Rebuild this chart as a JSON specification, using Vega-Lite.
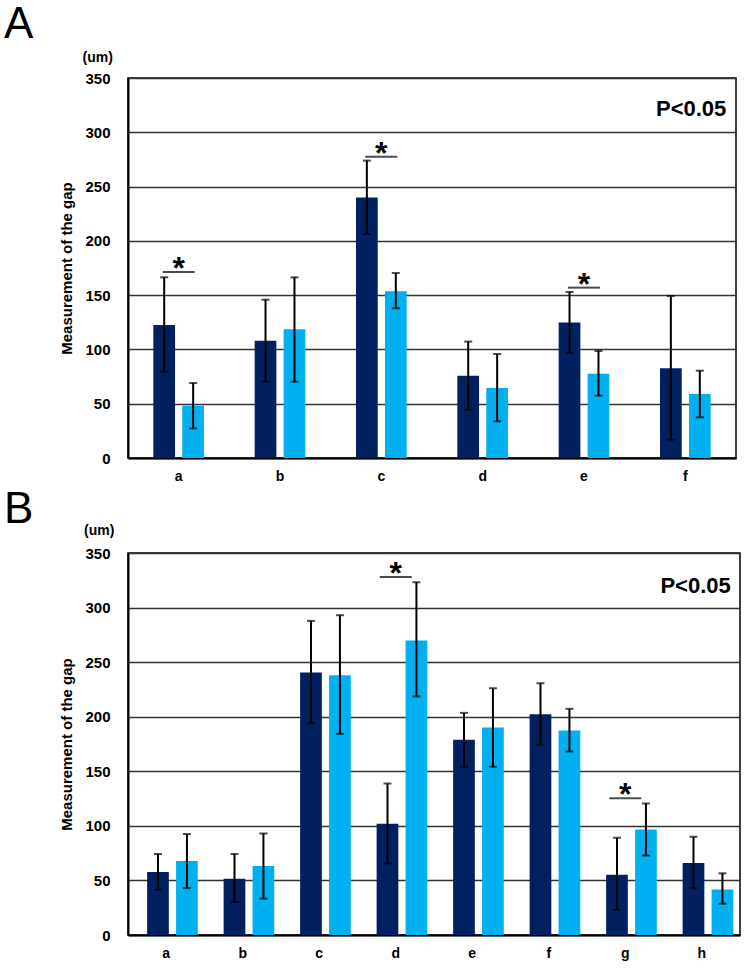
{
  "$schema": "https://vega.github.io/schema/vega-lite/v6.json",
  "padding": {"left": 3, "top": 2, "right": 2, "bottom": 0},
  "spacing": 3,
  "config": {
    "font": "Liberation Sans",
    "view": {"stroke": "black", "strokeWidth": 1.5},
    "axis": {
      "labelFont": "Liberation Sans", "labelFontWeight": "bold", "labelColor": "black",
      "titleFont": "Liberation Sans", "titleFontWeight": "bold", "titleColor": "black",
      "ticks": false, "domainColor": "black", "domainWidth": 2,
      "gridColor": "#333333", "gridWidth": 1.3
    },
    "title": {"font": "Liberation Sans", "fontWeight": "normal", "fontSize": 44, "anchor": "start", "frame": "group", "baseline": "alphabetic", "dx": -124, "color": "black"}
  },
  "datasets": {
    "A": [
      {"cat": "a", "group": "Series 1", "mean": 122.5, "lo": 79.5, "hi": 166.4},
      {"cat": "a", "group": "Series 2", "mean": 48.2, "lo": 27.3, "hi": 69.1},
      {"cat": "b", "group": "Series 1", "mean": 108, "lo": 70.3, "hi": 145.8},
      {"cat": "b", "group": "Series 2", "mean": 118.5, "lo": 70.3, "hi": 166.4},
      {"cat": "c", "group": "Series 1", "mean": 240, "lo": 206.3, "hi": 273.9},
      {"cat": "c", "group": "Series 2", "mean": 153.5, "lo": 137.9, "hi": 170.4},
      {"cat": "d", "group": "Series 1", "mean": 75.8, "lo": 44.2, "hi": 107.2},
      {"cat": "d", "group": "Series 2", "mean": 64.5, "lo": 33.8, "hi": 95.8},
      {"cat": "e", "group": "Series 1", "mean": 124.7, "lo": 97, "hi": 152.9},
      {"cat": "e", "group": "Series 2", "mean": 77.7, "lo": 57.4, "hi": 98.6},
      {"cat": "f", "group": "Series 1", "mean": 82.6, "lo": 16.9, "hi": 149.2},
      {"cat": "f", "group": "Series 2", "mean": 59, "lo": 37.5, "hi": 80.4}
    ],
    "B": [
      {"cat": "a", "group": "Series 1", "mean": 57.7, "lo": 41.5, "hi": 74.2},
      {"cat": "a", "group": "Series 2", "mean": 67.7, "lo": 43, "hi": 92.5},
      {"cat": "b", "group": "Series 1", "mean": 51.6, "lo": 30.2, "hi": 74.2},
      {"cat": "b", "group": "Series 2", "mean": 63.2, "lo": 33.3, "hi": 93},
      {"cat": "c", "group": "Series 1", "mean": 240.5, "lo": 194, "hi": 287.8},
      {"cat": "c", "group": "Series 2", "mean": 238, "lo": 184.3, "hi": 293},
      {"cat": "d", "group": "Series 1", "mean": 101.9, "lo": 65.6, "hi": 138.8},
      {"cat": "d", "group": "Series 2", "mean": 269.8, "lo": 218.5, "hi": 323.2},
      {"cat": "e", "group": "Series 1", "mean": 178.8, "lo": 154.1, "hi": 203.5},
      {"cat": "e", "group": "Series 2", "mean": 190.1, "lo": 154.1, "hi": 226.1},
      {"cat": "f", "group": "Series 1", "mean": 202.3, "lo": 174.3, "hi": 230.7},
      {"cat": "f", "group": "Series 2", "mean": 187.4, "lo": 168.2, "hi": 207.2},
      {"cat": "g", "group": "Series 1", "mean": 55.2, "lo": 22.9, "hi": 89.1},
      {"cat": "g", "group": "Series 2", "mean": 96.7, "lo": 72.9, "hi": 120.5},
      {"cat": "h", "group": "Series 1", "mean": 65.9, "lo": 43, "hi": 90},
      {"cat": "h", "group": "Series 2", "mean": 41.8, "lo": 28.7, "hi": 56.5}
    ],
    "Asig": [
      {"cat": "a", "y": 171.3, "label": "*"},
      {"cat": "c", "y": 277.5, "label": "*"},
      {"cat": "e", "y": 156.9, "label": "*"}
    ],
    "Bsig": [
      {"cat": "d", "y": 328, "label": "*"},
      {"cat": "g", "y": 125.3, "label": "*"}
    ]
  },
  "vconcat": [
    {
      "title": {"text": "A", "offset": 4},
      "width": 608,
      "height": 380,
      "layer": [
        {
          "data": {"name": "A"},
          "mark": {"type": "bar"},
          "encoding": {
            "x": {"field": "cat", "type": "nominal", "scale": {"paddingInner": 0.5, "paddingOuter": 0.25}, "axis": {"title": null, "labelAngle": 0, "labelFontSize": 14, "labelPadding": 11}},
            "xOffset": {"field": "group", "type": "nominal", "scale": {"paddingInner": 0.25, "paddingOuter": 0}},
            "y": {"field": "mean", "type": "quantitative", "scale": {"domain": [0, 350], "nice": false}, "axis": {"title": "Measurement of the gap", "values": [0, 50, 100, 150, 200, 250, 300, 350], "labelFontSize": 15, "labelPadding": 18, "titleFontSize": 15, "titlePadding": 10, "grid": true}},
            "color": {"field": "group", "type": "nominal", "scale": {"domain": ["Series 1", "Series 2"], "range": ["#002060", "#00b0f0"]}, "legend": null}
          }
        },
        {
          "data": {"name": "A"},
          "mark": {"type": "rule", "strokeWidth": 2, "color": "black"},
          "encoding": {
            "x": {"field": "cat", "type": "nominal"},
            "xOffset": {"field": "group", "type": "nominal"},
            "y": {"field": "lo", "type": "quantitative"},
            "y2": {"field": "hi"}
          }
        },
        {
          "data": {"name": "A"},
          "mark": {"type": "tick", "thickness": 2, "size": 8, "color": "black", "orient": "horizontal"},
          "encoding": {
            "x": {"field": "cat", "type": "nominal"},
            "xOffset": {"field": "group", "type": "nominal"},
            "y": {"field": "lo", "type": "quantitative"}
          }
        },
        {
          "data": {"name": "A"},
          "mark": {"type": "tick", "thickness": 2, "size": 8, "color": "black", "orient": "horizontal"},
          "encoding": {
            "x": {"field": "cat", "type": "nominal"},
            "xOffset": {"field": "group", "type": "nominal"},
            "y": {"field": "hi", "type": "quantitative"}
          }
        },
        {
          "data": {"name": "Asig"},
          "mark": {"type": "tick", "thickness": 2, "size": 32, "color": "black", "orient": "horizontal"},
          "encoding": {
            "x": {"field": "cat", "type": "nominal"},
            "y": {"field": "y", "type": "quantitative"}
          }
        },
        {
          "data": {"name": "Asig"},
          "mark": {"type": "text", "fontSize": 32, "fontWeight": "bold", "baseline": "alphabetic", "dy": 7, "color": "black"},
          "encoding": {
            "x": {"field": "cat", "type": "nominal"},
            "y": {"field": "y", "type": "quantitative"},
            "text": {"field": "label"}
          }
        },
        {
          "data": {"values": [{"label": "P<0.05"}]},
          "mark": {"type": "text", "fontSize": 22, "fontWeight": "bold", "align": "right", "baseline": "middle", "dx": 41, "color": "black"},
          "encoding": {
            "x": {"datum": "f", "type": "nominal"},
            "y": {"datum": 321, "type": "quantitative"},
            "text": {"field": "label"}
          }
        },
        {
          "data": {"values": [{"label": "(um)"}]},
          "mark": {"type": "text", "fontSize": 14, "fontWeight": "bold", "align": "center", "baseline": "middle", "dx": -81, "dy": -20, "color": "black"},
          "encoding": {
            "x": {"datum": "a", "type": "nominal"},
            "y": {"datum": 350, "type": "quantitative"},
            "text": {"field": "label"}
          }
        }
      ]
    },
    {
      "title": {"text": "B", "offset": -8},
      "width": 612,
      "height": 382,
      "layer": [
        {
          "data": {"name": "B"},
          "mark": {"type": "bar"},
          "encoding": {
            "x": {"field": "cat", "type": "nominal", "scale": {"paddingInner": 0.5, "paddingOuter": 0.25}, "axis": {"title": null, "labelAngle": 0, "labelFontSize": 14, "labelPadding": 11}},
            "xOffset": {"field": "group", "type": "nominal", "scale": {"paddingInner": 0.25, "paddingOuter": 0}},
            "y": {"field": "mean", "type": "quantitative", "scale": {"domain": [0, 350], "nice": false}, "axis": {"title": "Measurement of the gap", "values": [0, 50, 100, 150, 200, 250, 300, 350], "labelFontSize": 15, "labelPadding": 18, "titleFontSize": 15, "titlePadding": 10, "grid": true}},
            "color": {"field": "group", "type": "nominal", "scale": {"domain": ["Series 1", "Series 2"], "range": ["#002060", "#00b0f0"]}, "legend": null}
          }
        },
        {
          "data": {"name": "B"},
          "mark": {"type": "rule", "strokeWidth": 2, "color": "black"},
          "encoding": {
            "x": {"field": "cat", "type": "nominal"},
            "xOffset": {"field": "group", "type": "nominal"},
            "y": {"field": "lo", "type": "quantitative"},
            "y2": {"field": "hi"}
          }
        },
        {
          "data": {"name": "B"},
          "mark": {"type": "tick", "thickness": 2, "size": 8, "color": "black", "orient": "horizontal"},
          "encoding": {
            "x": {"field": "cat", "type": "nominal"},
            "xOffset": {"field": "group", "type": "nominal"},
            "y": {"field": "lo", "type": "quantitative"}
          }
        },
        {
          "data": {"name": "B"},
          "mark": {"type": "tick", "thickness": 2, "size": 8, "color": "black", "orient": "horizontal"},
          "encoding": {
            "x": {"field": "cat", "type": "nominal"},
            "xOffset": {"field": "group", "type": "nominal"},
            "y": {"field": "hi", "type": "quantitative"}
          }
        },
        {
          "data": {"name": "Bsig"},
          "mark": {"type": "tick", "thickness": 2, "size": 32, "color": "black", "orient": "horizontal"},
          "encoding": {
            "x": {"field": "cat", "type": "nominal"},
            "y": {"field": "y", "type": "quantitative"}
          }
        },
        {
          "data": {"name": "Bsig"},
          "mark": {"type": "text", "fontSize": 32, "fontWeight": "bold", "baseline": "alphabetic", "dy": 7, "color": "black"},
          "encoding": {
            "x": {"field": "cat", "type": "nominal"},
            "y": {"field": "y", "type": "quantitative"},
            "text": {"field": "label"}
          }
        },
        {
          "data": {"values": [{"label": "P<0.05"}]},
          "mark": {"type": "text", "fontSize": 22, "fontWeight": "bold", "align": "right", "baseline": "middle", "dx": 29, "color": "black"},
          "encoding": {
            "x": {"datum": "h", "type": "nominal"},
            "y": {"datum": 320, "type": "quantitative"},
            "text": {"field": "label"}
          }
        },
        {
          "data": {"values": [{"label": "(um)"}]},
          "mark": {"type": "text", "fontSize": 14, "fontWeight": "bold", "align": "center", "baseline": "middle", "dx": -67, "dy": -22, "color": "black"},
          "encoding": {
            "x": {"datum": "a", "type": "nominal"},
            "y": {"datum": 350, "type": "quantitative"},
            "text": {"field": "label"}
          }
        }
      ]
    }
  ]
}
